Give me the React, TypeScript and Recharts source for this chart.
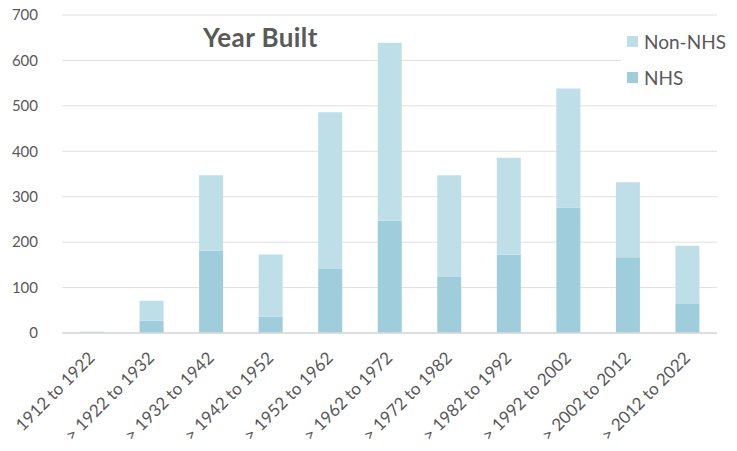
import React from 'react';
import { BarChart, Bar, XAxis, YAxis, CartesianGrid, Legend } from 'recharts';

const categories = [
  '1912 to 1922',
  '> 1922 to 1932',
  '> 1932 to 1942',
  '> 1942 to 1952',
  '> 1952 to 1962',
  '> 1962 to 1972',
  '> 1972 to 1982',
  '> 1982 to 1992',
  '> 1992 to 2002',
  '> 2002 to 2012',
  '> 2012 to 2022',
];
const nhsValues = [1, 27, 181, 36, 141, 247, 123, 172, 276, 167, 64];
const nonNhsValues = [2, 44, 166, 137, 345, 392, 224, 214, 262, 165, 128];
const yTicks = [0, 100, 200, 300, 400, 500, 600, 700];

const NHS_COLOR = '#9FCDDC';
const NON_NHS_COLOR = '#BEDFE8';
const TEXT_COLOR = '#595959';
const FONT = 'Lato, "Open Sans", sans-serif';

const data = categories.map((c, i) => ({
  name: c,
  NHS: nhsValues[i],
  'Non-NHS': nonNhsValues[i],
}));

const XTick = (props: any) => {
  const { x, y, payload } = props;
  const ax = x + 4;
  const ay = y + 18;
  return (
    <text
      x={ax}
      y={ay}
      textAnchor="end"
      transform={`rotate(-45, ${ax}, ${ay})`}
      fill={TEXT_COLOR}
      fontSize={17}
      fontFamily={FONT}
    >
      {payload.value}
    </text>
  );
};

const LegendContent = () => {
  const items = [
    { label: 'Non-NHS', color: NON_NHS_COLOR },
    { label: 'NHS', color: NHS_COLOR },
  ];
  return (
    <div style={{ background: '#fff', padding: '4px 0 4px 6px' }}>
      {items.map((it) => (
        <div
          key={it.label}
          style={{
            display: 'flex',
            alignItems: 'center',
            height: 36,
            fontFamily: FONT,
            fontSize: 19,
            color: TEXT_COLOR,
          }}
        >
          <span
            style={{
              display: 'inline-block',
              width: 11,
              height: 11,
              background: it.color,
              marginRight: 6,
            }}
          />
          {it.label}
        </div>
      ))}
    </div>
  );
};

export default function App() {
  return (
    <div style={{ position: 'absolute', left: 0, top: 0, width: 737, height: 451, background: '#fff' }}>
      <BarChart
        width={737}
        height={451}
        data={data}
        margin={{ top: 15, right: 20, left: 0, bottom: 0 }}
      >
        <CartesianGrid vertical={false} stroke="#E0E0E0" />
        <XAxis
          dataKey="name"
          height={118}
          interval={0}
          tickLine={false}
          axisLine={{ stroke: '#D9D9D9', strokeWidth: 1.5 }}
          tick={<XTick />}
        />
        <YAxis
          width={62}
          domain={[0, 700]}
          ticks={yTicks}
          axisLine={false}
          tickLine={false}
          tickMargin={18}
          tick={{ fill: TEXT_COLOR, fontSize: 15, fontFamily: FONT }}
        />
        <Legend
          layout="vertical"
          align="center"
          verticalAlign="middle"
          content={<LegendContent />}
          wrapperStyle={{ left: 621, top: 19, width: 116 }}
        />
        <Bar dataKey="NHS" stackId="a" fill={NHS_COLOR} barSize={24} isAnimationActive={false} />
        <Bar dataKey="Non-NHS" stackId="a" fill={NON_NHS_COLOR} barSize={24} isAnimationActive={false} />
      </BarChart>
      <div
        style={{
          position: 'absolute',
          left: 203,
          top: 22,
          fontFamily: FONT,
          fontWeight: 700,
          fontSize: 26,
          letterSpacing: 0.4,
          color: TEXT_COLOR,
          lineHeight: '30px',
        }}
      >
        Year Built
      </div>
    </div>
  );
}
